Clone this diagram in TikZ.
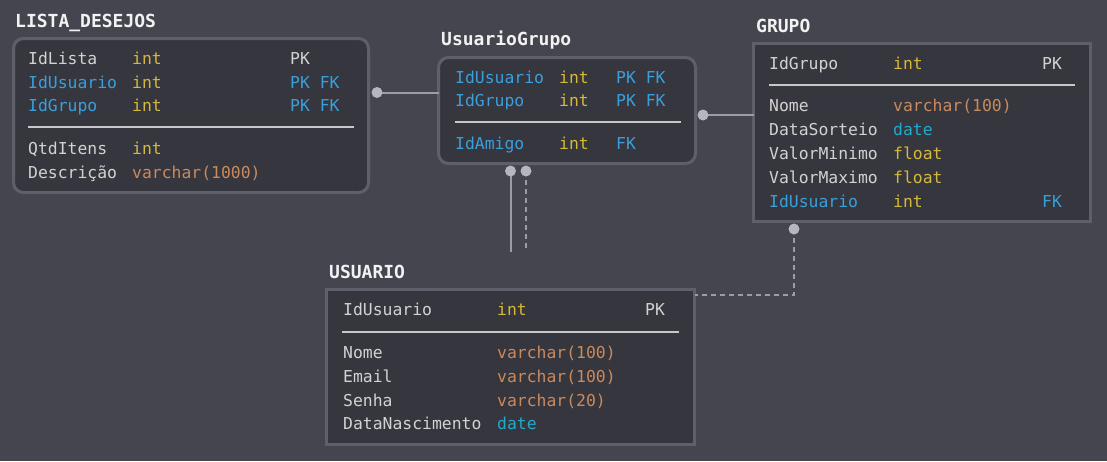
\documentclass[tikz,border=0pt]{standalone}
\usepackage{fontspec}
\newfontfamily\monof{DejaVu Sans Mono}
\usetikzlibrary{calc}
\definecolor{bgc}{HTML}{45454F}
\definecolor{boxfill}{HTML}{36363E}
\definecolor{boxline}{HTML}{5F5F69}
\definecolor{txtg}{HTML}{D2D2D2}
\definecolor{txtb}{HTML}{3A9FDC}
\definecolor{txty}{HTML}{D6B93A}
\definecolor{txto}{HTML}{C98A5C}
\definecolor{txtc}{HTML}{22AACB}
\definecolor{sepc}{HTML}{C8C8CC}
\definecolor{conn}{HTML}{9C9CA4}
\definecolor{dotc}{HTML}{B6B6BE}
\definecolor{titc}{HTML}{F2F2F2}
\newcommand\fld[8]{%
  \node[fieldtxt,text=#4] (#1a) at (\cA,#2) {#3};
  \node[fieldtxt,text=#6] (#1b) at (\cB,#2) {#5};
  \node[fieldtxt,text=#8] (#1c) at (\cC,#2) {#7};}
\begin{document}
\begin{tikzpicture}[x=1pt,y=-1pt,
  tbl/.style={draw=boxline,fill=boxfill,line width=3pt,inner sep=0pt,outer sep=0pt,anchor=north west},
  fieldtxt/.style={anchor=base west,inner sep=0pt,font=\monof\fontsize{16.4}{18}\selectfont},
  titletxt/.style={anchor=base west,inner sep=0pt,text=titc,font=\monof\bfseries\fontsize{18}{20}\selectfont},
  sepline/.style={draw=sepc,line width=2pt},
  conline/.style={draw=conn,line width=2pt},
  condash/.style={draw=conn,line width=2pt,dash pattern=on 5pt off 4pt},
  dotst/.style={circle,fill=dotc,inner sep=0pt,minimum size=11pt}]
\fill[bgc] (0,0) rectangle (1107,461);
\useasboundingbox (0,0) rectangle (1107,461);

% ---------- LISTA_DESEJOS ----------
\node[tbl,rounded corners=10pt,minimum width=355pt,minimum height=154pt] (lista) at (13.5,38.5) {};
\node[titletxt] (tlista) at (15,27) {LISTA\_DESEJOS};
\def\cA{28}\def\cB{132}\def\cC{290}
\fld{l1}{64}{IdLista}{txtg}{int}{txty}{PK}{txtg}
\fld{l2}{88}{IdUsuario}{txtb}{int}{txty}{PK FK}{txtb}
\fld{l3}{111}{IdGrupo}{txtb}{int}{txty}{PK FK}{txtb}
\coordinate (ls1) at (28,127); \coordinate (ls2) at (354,127);
\draw[sepline] (ls1) -- (ls2);
\fld{l4}{154}{QtdItens}{txtg}{int}{txty}{}{txtg}
\fld{l5}{178}{Descrição}{txtg}{varchar(1000)}{txto}{}{txtg}

% ---------- UsuarioGrupo ----------
\node[tbl,rounded corners=10pt,minimum width=257pt,minimum height=106pt] (ug) at (438.5,57.5) {};
\node[titletxt] (tug) at (441,45) {UsuarioGrupo};
\def\cA{455}\def\cB{559}\def\cC{616}
\fld{u1}{83}{IdUsuario}{txtb}{int}{txty}{PK FK}{txtb}
\fld{u2}{106}{IdGrupo}{txtb}{int}{txty}{PK FK}{txtb}
\coordinate (us1) at (455,122); \coordinate (us2) at (681,122);
\draw[sepline] (us1) -- (us2);
\fld{u3}{149}{IdAmigo}{txtb}{int}{txty}{FK}{txtb}

% ---------- GRUPO ----------
\node[tbl,minimum width=337pt,minimum height=178pt] (grupo) at (753.5,43.5) {};
\node[titletxt] (tgrupo) at (756,32) {GRUPO};
\def\cA{769}\def\cB{893}\def\cC{1042}
\fld{g1}{69}{IdGrupo}{txtg}{int}{txty}{PK}{txtg}
\coordinate (gs1) at (769,85); \coordinate (gs2) at (1075,85);
\draw[sepline] (gs1) -- (gs2);
\fld{g2}{111}{Nome}{txtg}{varchar(100)}{txto}{}{txtg}
\fld{g3}{135}{DataSorteio}{txtg}{date}{txtc}{}{txtg}
\fld{g4}{159}{ValorMinimo}{txtg}{float}{txty}{}{txtg}
\fld{g5}{183}{ValorMaximo}{txtg}{float}{txty}{}{txtg}
\fld{g6}{207}{IdUsuario}{txtb}{int}{txty}{FK}{txtb}

% ---------- USUARIO ----------
\node[tbl,minimum width=368pt,minimum height=155pt] (usuario) at (326.5,289.5) {};
\node[titletxt] (tusuario) at (329,278) {USUARIO};
\def\cA{343}\def\cB{497}\def\cC{645}
\fld{s1}{315}{IdUsuario}{txtg}{int}{txty}{PK}{txtg}
\coordinate (ss1) at (342,332); \coordinate (ss2) at (679,332);
\draw[sepline] (ss1) -- (ss2);
\fld{s2}{358}{Nome}{txtg}{varchar(100)}{txto}{}{txtg}
\fld{s3}{382}{Email}{txtg}{varchar(100)}{txto}{}{txtg}
\fld{s4}{406}{Senha}{txtg}{varchar(20)}{txto}{}{txtg}
\fld{s5}{429}{DataNascimento}{txtg}{date}{txtc}{}{txtg}

% ---------- connectors ----------
\coordinate (d1) at (377,92.5);
\draw[conline] (d1) -- (d1 -| ug.west);
\node[dotst] (dot1) at (d1) {};

\coordinate (d2) at (703,115);
\draw[conline] (d2) -- (d2 -| grupo.west);
\node[dotst] (dot2) at (d2) {};

\coordinate (d3) at (510.5,171); \coordinate (e3) at (510.5,252);
\draw[conline] (d3) -- (e3);
\node[dotst] (dot3) at (d3) {};

\coordinate (d4) at (526,171); \coordinate (e4) at (526,252);
\draw[condash] (d4) -- (e4);
\node[dotst] (dot4) at (d4) {};

\coordinate (d5) at (794,229); \coordinate (k5) at (794,295);
\draw[condash] (d5) -- (k5) -- (k5 -| usuario.east);
\node[dotst] (dot5) at (d5) {};
\end{tikzpicture}
\end{document}
